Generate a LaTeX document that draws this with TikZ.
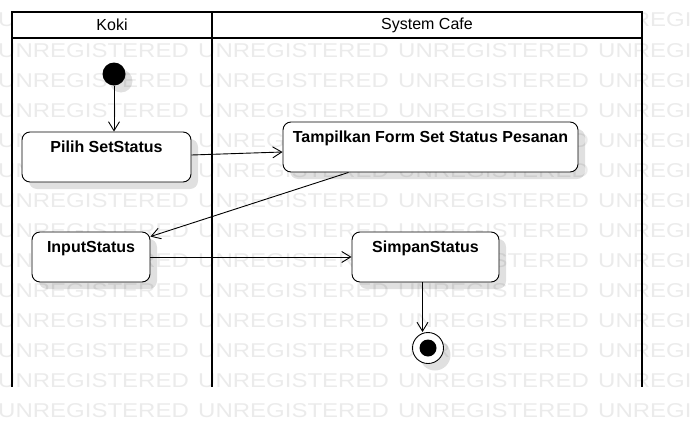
\documentclass[tikz,border=0pt]{standalone}
\usepackage{fontspec}
\setmainfont{Liberation Sans}
\usetikzlibrary{arrows.meta,shadows}

\begin{document}
\begin{tikzpicture}[x=1pt,y=-1pt,
	lane/.style={line width=2pt,line cap=rect},
	lanehead/.style={inner sep=0pt,font=\fontsize{16}{19}\selectfont},
	activity/.style={draw,line width=0.9pt,rounded corners=8pt,fill=white,inner xsep=0pt,inner ysep=8pt,text height=12pt,text depth=22pt,font=\fontsize{16}{19}\selectfont\bfseries,drop shadow={shadow xshift=7pt,shadow yshift=-7pt,opacity=0.12,fill=black}},
	wm/.style={anchor=base west,inner sep=0pt,text=black!8,font=\fontsize{20}{24}\selectfont},
	flow/.style={line width=0.9pt,-{Straight Barb[length=9pt,width=11pt,line width=0.9pt]}}]
	\useasboundingbox (0,0) rectangle (692,436);
	% watermark
	\foreach \r in {0,...,13}{
		\foreach \c in {0,...,3}{
			\node[wm] (w-\r-\c) at (-2+200*\c,27+30*\r) {\scalebox{1.2}[1]{UNREGISTERED}};
		}
	}
	% swimlanes
	\fill[white] (12,12) rectangle (642,38);
	\node[lanehead] (koki) at (112,25) {Koki};
	\node[lanehead] (cafe) at (427,25) {System Cafe};
	\draw[lane] (12,386) -- (12,12) -- (642,12) -- (642,386);
	\draw[lane] (12,38) -- (642,38);
	\draw[lane] (212,12) -- (212,386);
	% nodes
	\node[circle,fill=black,inner sep=0pt,minimum size=23pt,drop shadow={shadow xshift=7pt,shadow yshift=-7pt,opacity=0.12,fill=black}] (start) at (114,74) {};
	\node[activity,minimum width=169pt] (pilih) at (106.5,157) {Pilih SetStatus};
	\node[activity,minimum width=295pt] (tampil) at (430.5,147) {Tampilkan Form Set Status Pesanan};
	\node[activity,minimum width=118pt] (input) at (91,257) {InputStatus};
	\node[activity,minimum width=147pt] (simpan) at (425.5,257) {SimpanStatus};
	\node[circle,draw,line width=0.9pt,fill=white,inner sep=0pt,minimum size=31pt,drop shadow={shadow xshift=7pt,shadow yshift=-7pt,opacity=0.12,fill=black}] (stop) at (428,348) {};
	\node[circle,fill=black,inner sep=0pt,minimum size=17pt] (stopdot) at (stop) {};
	% flows
	\draw[flow] (start) -- (start |- pilih.north);
	\draw[flow] ([yshift=2pt]pilih.east) -- ([yshift=-5pt]tampil.west);
	\draw[flow] ([xshift=-82pt]tampil.south) -- ([yshift=-5pt]input.north east);
	\draw[flow] (input.east) -- (simpan.west);
	\draw[flow] ([xshift=-3pt]simpan.south) -- ([xshift=-3pt]simpan.south |- stop.north);
\end{tikzpicture}
\end{document}
